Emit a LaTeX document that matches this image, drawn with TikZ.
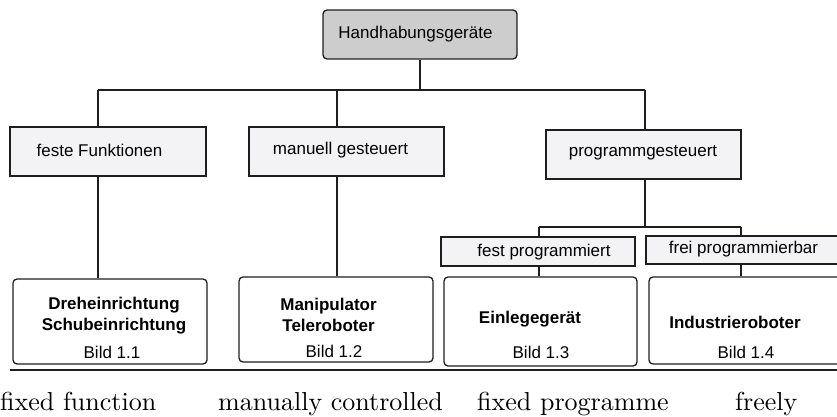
\documentclass[tikz,border=0pt]{standalone}
\usepackage{fontspec}
\newfontfamily\arialf{Liberation Sans}
\newfontfamily\engf{lmroman10-regular.otf}
\definecolor{boxfill}{HTML}{F3F3F5}
\definecolor{topfill}{HTML}{CDCDCD}
\definecolor{linec}{HTML}{1E1E1E}
\begin{document}
\begin{tikzpicture}[x=1pt,y=-1pt,
  sqbox/.style={draw=linec, line width=1.3pt, fill=boxfill, inner sep=0pt},
  rbox/.style={draw=linec, line width=1.3pt, fill=white, rounded corners=4pt, inner sep=0pt},
  topbox/.style={draw=linec, line width=1.3pt, fill=topfill, rounded corners=4pt, inner sep=0pt},
  lbl/.style={font=\arialf\fontsize{17}{20}\selectfont, inner sep=0pt, align=center},
  blbl/.style={font=\arialf\bfseries\fontsize{17}{21}\selectfont, inner sep=0pt, align=center},
  eng/.style={font=\engf\fontsize{26}{30}\selectfont, inner sep=0pt, anchor=base west},
  conn/.style={draw=linec, line width=1.3pt}]
\useasboundingbox (0,0) rectangle (837,417);
% boxes
\node[topbox, minimum width=194pt, minimum height=49pt] (top) at (420,34.5) {};
\node[lbl] (toptxt) at (415.5,34) {Handhabungsgeräte};
\node[sqbox, minimum width=196pt, minimum height=49pt] (feste) at (108,151.5) {};
\node[lbl] (festetxt) at (99.5,150) {feste Funktionen};
\node[sqbox, minimum width=195pt, minimum height=49pt] (man) at (346.5,151.5) {};
\node[lbl] (mantxt) at (340.5,150) {manuell gesteuert};
\node[sqbox, minimum width=195pt, minimum height=49pt] (prog) at (643.5,154.5) {};
\node[lbl] (progtxt) at (643,153) {programmgesteuert};
\node[sqbox, minimum width=194pt, minimum height=29pt] (fest) at (538,251.5) {};
\node[lbl] (festtxt) at (544,252) {fest programmiert};
\node[sqbox, minimum width=194pt, minimum height=28pt] (frei) at (743,250) {};
\node[lbl] (freitxt) at (743.5,249.5) {frei programmierbar};
\node[rbox, minimum width=194pt, minimum height=85pt] (b1) at (110,321.5) {};
\node[blbl] (b1a) at (114,316) {Dreheinrichtung\\Schubeinrichtung};
\node[lbl] (b1b) at (112,352) {Bild 1.1};
\node[rbox, minimum width=194pt, minimum height=85pt] (b2) at (336,319.5) {};
\node[blbl] (b2a) at (328.5,315) {Manipulator\\Teleroboter};
\node[lbl] (b2b) at (334,351) {Bild 1.2};
\node[rbox, minimum width=193pt, minimum height=89pt] (b3) at (540.5,321.5) {};
\node[blbl] (b3a) at (530,319) {Einlegegerät};
\node[lbl] (b3b) at (541,352) {Bild 1.3};
\node[rbox, minimum width=194pt, minimum height=87pt] (b4) at (746,320.5) {};
\node[blbl] (b4a) at (735,322) {Industrieroboter};
\node[lbl] (b4b) at (746,352) {Bild 1.4};
% connectors
\coordinate (hL) at (98,90);
\coordinate (hM) at (337,90);
\coordinate (hR) at (645,90);
\coordinate (sL) at (539,227);
\coordinate (sR) at (741,227);
\draw[conn] (top.south) -- (top.south |- hL);
\draw[conn] (hL) -- (hR);
\draw[conn] (hL) -- (hL |- feste.north);
\draw[conn] (feste.south -| hL) -- (hL |- b1.north);
\draw[conn] (hM) -- (hM |- man.north);
\draw[conn] (man.south -| hM) -- (hM |- b2.north);
\draw[conn] (hR) -- (hR |- prog.north);
\draw[conn] (prog.south -| hR) -- (hR |- sL);
\draw[conn] (sL) -- (sR);
\draw[conn] (sL) -- (sL |- fest.north);
\draw[conn] (fest.south -| sL) -- (sL |- b3.north);
\draw[conn] (sR) -- (sR |- frei.north);
\draw[conn] (frei.south -| sR) -- (sR |- b4.north);
% bottom rule
\coordinate (rL) at (10,370);
\coordinate (rR) at (837,370);
\draw[conn, line width=1.6pt] (rL) -- (rR);
% english labels
\node[eng] (e1) at (0,410) {fixed function};
\node[eng] (e2) at (218,410) {manually controlled};
\node[eng] (e3) at (477,410) {fixed programme};
\node[eng] (e4) at (735,410) {freely};
\end{tikzpicture}
\end{document}
